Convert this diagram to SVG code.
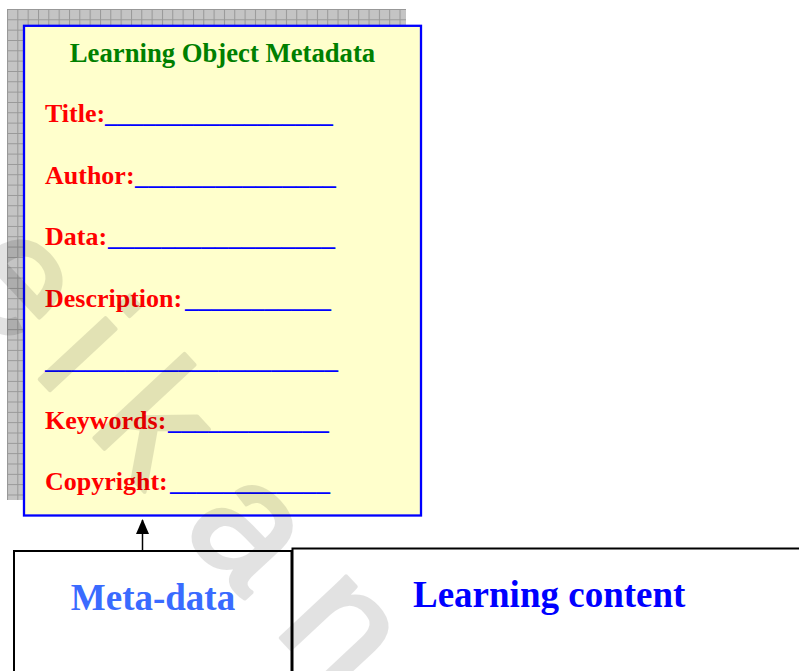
<svg xmlns="http://www.w3.org/2000/svg" width="799" height="671" viewBox="0 0 799 671">
<style>
  .serif{font-family:"Liberation Serif","Times New Roman",serif;font-weight:bold;}
  .lbl{font-size:26px;fill:#ff0000;}
  .line{font-size:26px;fill:#0000ff;}
  .wm{font-family:"Liberation Sans",Arial,sans-serif;font-size:170px;fill:#000000;stroke:#000000;stroke-width:4;stroke-linejoin:round;}
</style>
<defs>
  <pattern id="grid" patternUnits="userSpaceOnUse" x="7" y="9" width="10.33" height="10.33">
    <rect width="10.33" height="10.33" fill="#c4c4c4"/>
    <path d="M0.5 0 V10.33 M0 0.5 H10.33" stroke="#979797" stroke-width="1" fill="none"/>
  </pattern>
  <marker id="arrow" markerWidth="15" markerHeight="13" refX="14" refY="6.5" orient="auto" markerUnits="userSpaceOnUse">
    <path d="M0,0 L15,6.5 L0,13 Z" fill="#000"/>
  </marker>
</defs>
<rect width="799" height="671" fill="#ffffff"/>

<g id="metadata-card">
  <rect x="7" y="9" width="399" height="491" fill="url(#grid)"/>
  <rect x="24" y="25.8" width="397" height="489.7" fill="#ffffcc" stroke="#0000ff" stroke-width="2.3"/>
  <text class="serif" x="222.5" y="62" font-size="26.7" fill="#008000" text-anchor="middle">Learning Object Metadata</text>
  <text class="serif lbl" x="45" y="122">Title:</text>
  <text class="serif line" x="105" y="122" textLength="228" lengthAdjust="spacingAndGlyphs">__________________</text>
  <text class="serif lbl" x="45" y="184">Author:</text>
  <text class="serif line" x="135" y="184" textLength="201" lengthAdjust="spacingAndGlyphs">_______________</text>
  <text class="serif lbl" x="45" y="245">Data:</text>
  <text class="serif line" x="108" y="245" textLength="227" lengthAdjust="spacingAndGlyphs">_________________</text>
  <text class="serif lbl" x="45" y="307">Description:</text>
  <text class="serif line" x="185" y="307" textLength="146" lengthAdjust="spacingAndGlyphs">___________</text>
  <text class="serif line" x="45" y="368" textLength="293" lengthAdjust="spacingAndGlyphs">______________________</text>
  <text class="serif lbl" x="45" y="429">Keywords:</text>
  <text class="serif line" x="168" y="429" textLength="161" lengthAdjust="spacingAndGlyphs">____________</text>
  <text class="serif lbl" x="45" y="490">Copyright:</text>
  <text class="serif line" x="170" y="490" textLength="160" lengthAdjust="spacingAndGlyphs">____________</text>
</g>

<g id="meta-data">
  <rect x="14" y="551" width="277.5" height="140" fill="#ffffff" stroke="#000000" stroke-width="2"/>
  <text class="serif" x="153" y="610" font-size="37" fill="#3a6bff" text-anchor="middle">Meta-data</text>
</g>

<g id="learning-content">
  <rect x="292.5" y="548.5" width="530" height="140" fill="#ffffff" stroke="#000000" stroke-width="2"/>
  <text class="serif" x="413" y="607" font-size="37" fill="#0000ff">Learning content</text>
</g>

<g id="connectors">
  <line x1="142.5" y1="551" x2="142.5" y2="520" stroke="#000000" stroke-width="1.5" marker-end="url(#arrow)"/>
</g>

<g id="watermark" opacity="0.11" transform="translate(45,385) rotate(47)">
  <text class="wm" x="-140 -19 61 198 334" y="0">eikan</text>
</g>
</svg>
